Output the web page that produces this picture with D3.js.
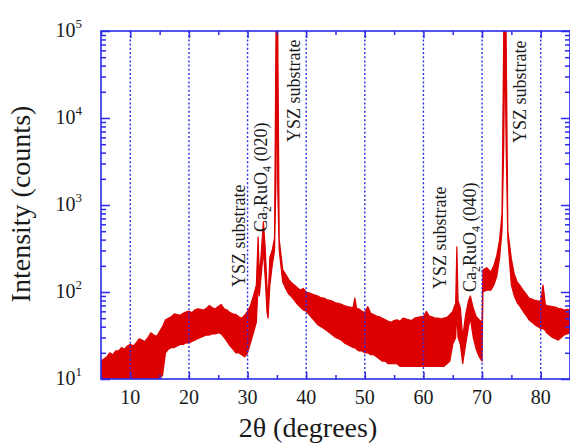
<!DOCTYPE html>
<html><head><meta charset="utf-8">
<script src="https://cdn.jsdelivr.net/npm/d3@7"></script>
<style>html,body{margin:0;padding:0;background:#fff;}svg{display:block;} text{font-family:"Liberation Serif","DejaVu Serif",serif;}</style>
</head><body>
<svg id="chart" width="570" height="445"></svg>
<script>
// 2θ (degrees) with lower / upper envelope of the noisy intensity band (counts)
const twoTheta = [
  5,5.5,6,6.5,7,7.5,8,8.5,9,9.5, 10,10.5,11,11.5,12,12.5,13,13.5,14,14.5,
  15,15.5,16,16.5,17,17.5,18,18.5,19,19.5, 20,20.5,21,21.5,22,22.5,23,23.5,24,24.5,
  25,25.5,26,26.5,27,27.5,28,28.5,29,29.5, 30,30.5,31,31.5,
  31.8,32.0,32.3,32.7,33.0,33.3,33.5,33.8,34.2,34.6,34.85,35.0,35.15,35.4,
  36,36.5,37,37.5,38,38.5,39,39.5,40,40.5, 41,41.5,42,42.5,43,43.5,44,44.5,45,45.5, 46,46.5,47,47.5,48,
  48.3,48.6,
  49,49.5,50,50.5,51,51.5,52,52.5,53,53.5, 54,54.5,55,55.5,56,56.5,57,57.5,58,58.5,
  59,59.5,60,60.5,61,61.5,62,62.5,63,63.5, 64,64.5,65,65.5,
  65.7,65.9,66.3,66.7,67.2,67.7,68.0,68.5,69,69.5, 70.0,70.15,70.8,71.5,72,72.5,73,73.4,73.7,73.9, 74.1,74.4,75,
  75.5,76,76.5,77,77.5,78,78.5,79,79.5,80,
  80.4,80.8,
  81,81.5,82,82.5,83,83.5,84,84.5,85];
const lowCounts = [
  10,10,10,10,10,10,10,10,10,10, 10,10,10,10,10,10,10,10,10,10,
  10,11,20,22,23,23,24,25,25,26, 26,27,28,29,30,31,32,32,33,33,
  34,33,30,27,24,22,20,20,19,18, 20,26,34,45,
  120,90,150,300,150,60,50,120,200,300,2000,100000,1500,300,
  130,110,95,88,80,72,67,62,60,55, 50,46,42,40,38,36,34,32,30,29, 28,26,25,24,23,
  23,22,
  21,21,20,20,19,19,18,17,16,16, 15,15,15,15,14,14,14,14,14,14,
  14,14,14,14,14,14,14,14,14,14, 15,16,25,30,
  60,30,25,15,25,40,50,30,22,18, 16,100,105,105,120,150,250,500,5000,100000, 5000,400,120,
  90,75,68,60,54,48,45,42,40,38,
  38,36,
  34,32,30,29,28,30,32,33,34];
const highCounts = [
  16,17,18,20,19,21,21,23,22,24, 25,24,26,29,28,27,30,34,32,31,
  35,40,48,50,52,56,55,54,57,59, 60,58,62,64,63,62,65,70,66,64,
  68,72,64,62,58,56,55,52,50,54, 60,70,90,120,
  430,150,260,640,330,120,80,250,300,420,100000,100000,100000,400,
  180,160,140,128,120,112,105,110,100,98, 95,92,90,86,85,82,80,78,75,74, 72,70,68,67,66,
  85,65,
  64,60,58,68,57,55,53,52,50,48, 46,45,47,48,46,50,49,48,47,50,
  51,52,52,60,53,52,50,50,49,50, 51,55,60,75,
  330,80,65,30,55,80,90,65,52,48, 45,180,190,170,200,260,400,800,100000,100000, 100000,500,240,
  160,130,118,105,95,85,83,80,79,78,
  120,72,
  70,69,68,67,65,64,62,63,62];
const xTickValues = [10,20,30,40,50,60,70,80];
const xMinorValues = [5,15,25,35,45,55,65,75,85];
const yDecades = [1,2,3,4,5];
const annotations = [
  {text:"YSZ substrate", pos:[245,287]},
  {text:"Ca2RuO4 (020)", pos:[267,232]},
  {text:"YSZ substrate", pos:[300,142]},
  {text:"YSZ substrate", pos:[446,289]},
  {text:"Ca2RuO4 (040)", pos:[476,292]},
  {text:"YSZ substrate", pos:[526,143]}
];

const svg = d3.select("#chart");
const L = 101, R = 570, T = 31, B = 379;
const x = d3.scaleLinear().domain([5,85]).range([L,R]);
const y = d3.scaleLog().domain([10,1e5]).range([B,T]);
const axisColor = "#2b2be8";
const red = "#dc0000";
const ink = "#1a1a1a";

svg.append("defs").append("clipPath").attr("id","clip")
  .append("rect").attr("x",L).attr("y",T).attr("width",R-L).attr("height",B-T);

const data = twoTheta.map((t,i)=>({t, lo:lowCounts[i], hi:highCounts[i]}));
const area = d3.area().x(d=>x(d.t)).y0(d=>y(Math.max(10,d.lo))).y1(d=>y(Math.min(1e5,d.hi)));
svg.append("path").datum(data).attr("clip-path","url(#clip)")
  .attr("d",area).attr("fill",red).attr("stroke",red).attr("stroke-width",1.2).attr("stroke-linejoin","round");

// dotted grid lines (drawn over data)
svg.append("g").selectAll("line").data(xTickValues).join("line")
  .attr("x1",d=>x(d)).attr("x2",d=>x(d)).attr("y1",T).attr("y2",B)
  .attr("stroke",axisColor).attr("stroke-width",1.4).attr("stroke-dasharray","2,2.2");

// frame
svg.append("rect").attr("x",L).attr("y",T).attr("width",R-L).attr("height",B-T)
  .attr("fill","none").attr("stroke",axisColor).attr("stroke-width",1.6);

const xb = svg.append("g").attr("transform",`translate(0,${B})`)
  .call(d3.axisTop(x).tickValues(xTickValues).tickSize(7).tickFormat(""));
const xbm = svg.append("g").attr("transform",`translate(0,${B})`)
  .call(d3.axisTop(x).tickValues(xMinorValues).tickSize(4).tickFormat(""));
const xt = svg.append("g").attr("transform",`translate(0,${T})`)
  .call(d3.axisBottom(x).tickValues(xTickValues).tickSize(7).tickFormat(""));
const xtm = svg.append("g").attr("transform",`translate(0,${T})`)
  .call(d3.axisBottom(x).tickValues(xMinorValues).tickSize(4).tickFormat(""));

const yMajor = yDecades.map(e=>Math.pow(10,e));
const yMinor = [];
yDecades.slice(0,-1).forEach(e=>{for(let m=2;m<=9;m++) yMinor.push(m*Math.pow(10,e));});
const yl = svg.append("g").attr("transform",`translate(${L},0)`)
  .call(d3.axisRight(y).tickValues(yMajor).tickSize(9).tickFormat(""));
const ylm = svg.append("g").attr("transform",`translate(${L},0)`)
  .call(d3.axisRight(y).tickValues(yMinor).tickSize(5).tickFormat(""));
const yr = svg.append("g").attr("transform",`translate(${R},0)`)
  .call(d3.axisLeft(y).tickValues(yMajor).tickSize(9).tickFormat(""));
const yrm = svg.append("g").attr("transform",`translate(${R},0)`)
  .call(d3.axisLeft(y).tickValues(yMinor).tickSize(5).tickFormat(""));
[xb,xbm,xt,xtm,yl,ylm,yr,yrm].forEach(g=>{
  g.select(".domain").remove();
  g.selectAll("line").attr("stroke",axisColor).attr("stroke-width",1.5);
});

// x tick labels
svg.append("g").selectAll("text").data(xTickValues).join("text")
  .attr("x",d=>x(d)).attr("y",404).attr("text-anchor","middle")
  .style("font-size","20px").attr("fill",ink).text(d=>d);

// y tick labels 10^n
const ytl = svg.append("g").selectAll("text").data(yDecades).join("text")
  .attr("x",82).attr("y",d=>y(Math.pow(10,d))+6).attr("text-anchor","end")
  .style("font-size","20px").attr("fill",ink);
ytl.append("tspan").text("10");
ytl.append("tspan").attr("dy",-9).style("font-size","13px").text(d=>d);

// axis titles
svg.append("text").attr("x",308).attr("y",437).attr("text-anchor","middle")
  .style("font-size","28px").attr("fill",ink).text("2θ (degrees)");
svg.append("text").attr("transform","translate(30,204) rotate(-90)").attr("text-anchor","middle")
  .style("font-size","28px").attr("fill",ink).text("Intensity (counts)");

// peak annotations
annotations.forEach(a=>{
  const t = svg.append("text").attr("transform",`translate(${a.pos[0]},${a.pos[1]}) rotate(-90)`)
    .style("font-size","18px").attr("fill",ink);
  const m = a.text.match(/^Ca2RuO4 (.*)$/);
  if(m){
    t.append("tspan").text("Ca");
    t.append("tspan").style("font-size","12px").attr("dy",4).text("2");
    t.append("tspan").attr("dy",-4).text("RuO");
    t.append("tspan").style("font-size","12px").attr("dy",4).text("4");
    t.append("tspan").attr("dy",-4).text(" "+m[1]);
  } else t.text(a.text);
});
</script>
</body></html>
